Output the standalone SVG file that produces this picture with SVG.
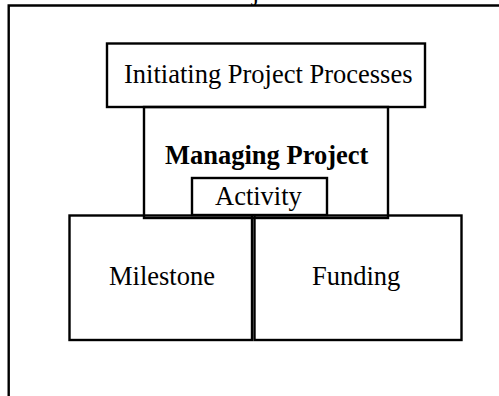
<svg xmlns="http://www.w3.org/2000/svg" width="499" height="396" viewBox="0 0 499 396">
  <style>
    .box { fill: none; stroke: #000; stroke-width: 2.4; }
    .frame { fill: none; stroke: #000; stroke-width: 2.4; }
    .lbl { font-family: "Liberation Serif", "Times New Roman", serif; font-size: 26.5px; fill: #000; }
    .bold { font-weight: bold; }
  </style>
  <rect x="0" y="0" width="499" height="396" fill="#fff"/>

  <!-- clipped heading glyph above the frame -->
  <text class="lbl" x="252" y="-0.5">j</text>

  <!-- outer frame: top and left edges -->
  <polyline class="frame" points="499,5.5 8.7,5.5 8.7,396"/>

  <g id="initiating">
    <rect class="box" x="107" y="43.5" width="318" height="63.5"/>
    <text class="lbl" x="124" y="83">Initiating Project Processes</text>
  </g>

  <g id="managing">
    <rect class="box" x="144" y="107" width="244" height="111"/>
    <text class="lbl bold" x="165" y="164">Managing Project</text>
  </g>

  <g id="activity">
    <rect class="box" x="192" y="178" width="135" height="37"/>
    <text class="lbl" x="215" y="204.5">Activity</text>
  </g>

  <g id="milestone">
    <rect class="box" x="69.5" y="215.5" width="182.5" height="124.5"/>
    <text class="lbl" x="109" y="285">Milestone</text>
  </g>

  <g id="funding">
    <rect class="box" x="254.5" y="215.5" width="207" height="124.5"/>
    <text class="lbl" x="312" y="285">Funding</text>
  </g>
</svg>
